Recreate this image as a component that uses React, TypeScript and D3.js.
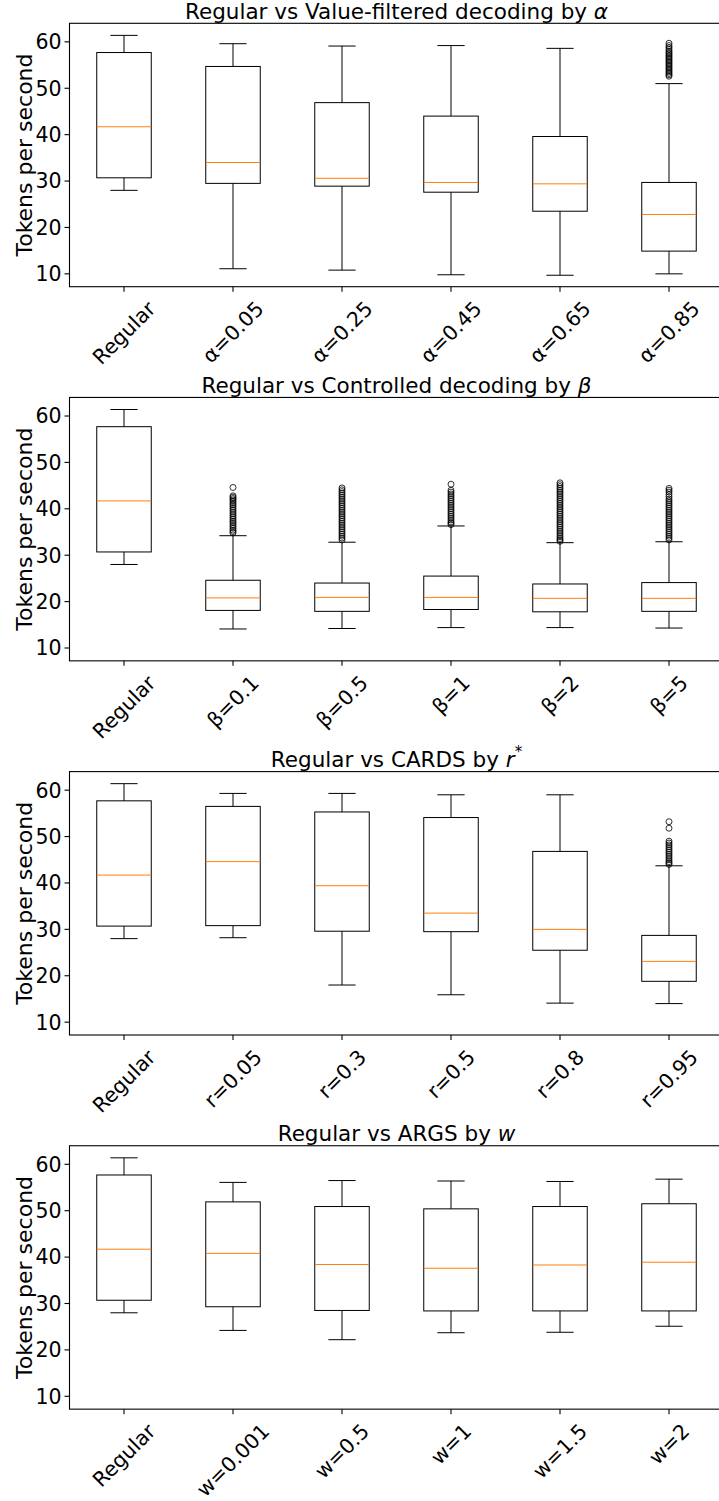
import React from 'react';
import * as d3 from 'd3';

// ---------- DATA ----------
const labelsAlpha = ['Regular', 'α=0.05', 'α=0.25', 'α=0.45', 'α=0.65', 'α=0.85'];
const loAlpha = [28.0, 11.1, 10.8, 9.8, 9.7, 10.0];
const q1Alpha = [30.7, 29.5, 28.9, 27.6, 23.5, 14.9];
const medAlpha = [41.7, 34.0, 30.6, 29.7, 29.4, 22.8];
const q3Alpha = [57.7, 54.7, 46.9, 44.0, 39.6, 29.7];
const hiAlpha = [61.4, 59.6, 59.1, 59.2, 58.6, 51.0];
const outAlpha085 = [52.6, 52.9, 53.2, 53.5, 53.8, 54.1, 54.4, 54.7, 55.0, 55.3, 55.6, 55.9, 56.2, 56.5, 56.8, 57.1, 57.4, 57.7, 58.0, 58.4, 58.8, 59.2, 59.7];

const labelsBeta = ['Regular', 'β=0.1', 'β=0.5', 'β=1', 'β=2', 'β=5'];
const loBeta = [28.0, 14.1, 14.2, 14.4, 14.4, 14.3];
const q1Beta = [30.7, 18.1, 17.9, 18.3, 17.8, 17.9];
const medBeta = [41.7, 20.8, 20.9, 20.9, 20.7, 20.7];
const q3Beta = [57.7, 24.6, 24.0, 25.5, 23.8, 24.1];
const hiBeta = [61.4, 34.2, 32.8, 36.3, 32.7, 32.9];
const outBeta01 = [34.8, 35.1, 35.4, 35.8, 36.2, 36.6, 37.0, 37.3, 37.7, 38.1, 38.5, 38.9, 39.3, 39.7, 40.1, 40.5, 40.9, 41.2, 41.6, 41.9, 42.2, 42.5, 42.8, 44.6];
const outBeta05 = [33.3, 33.7, 34.1, 34.5, 34.9, 35.3, 35.7, 36.1, 36.5, 36.9, 37.3, 37.7, 38.1, 38.5, 38.9, 39.3, 39.7, 40.1, 40.5, 40.9, 41.3, 41.7, 42.1, 42.5, 42.9, 43.3, 43.7, 44.1, 44.5];
const outBeta1 = [36.6, 36.9, 37.2, 37.6, 38.0, 38.4, 38.8, 39.2, 39.6, 40.0, 40.4, 40.8, 41.2, 41.6, 42.0, 42.4, 42.8, 43.2, 43.6, 44.0, 45.3];
const outBeta2 = [33.0, 33.3, 33.6, 34.0, 34.4, 34.8, 35.2, 35.6, 36.0, 36.4, 36.8, 37.2, 37.6, 38.0, 38.4, 38.8, 39.2, 39.6, 40.0, 40.4, 40.8, 41.2, 41.6, 42.0, 42.4, 42.8, 43.2, 43.6, 44.0, 44.4, 44.8, 45.2, 45.6];
const outBeta5 = [33.3, 33.7, 34.1, 34.5, 34.9, 35.3, 35.7, 36.1, 36.5, 36.9, 37.3, 37.7, 38.1, 38.5, 38.9, 39.3, 39.7, 40.1, 40.5, 40.9, 41.3, 41.7, 42.1, 42.6, 43.1, 43.6, 44.0, 44.4];

const labelsR = ['Regular', 'r=0.05', 'r=0.3', 'r=0.5', 'r=0.8', 'r=0.95'];
const loR = [28.0, 28.2, 18.0, 15.9, 14.1, 14.0];
const q1R = [30.7, 30.8, 29.6, 29.5, 25.5, 18.8];
const medR = [41.7, 44.6, 39.4, 33.5, 30.0, 23.1];
const q3R = [57.7, 56.5, 55.3, 54.1, 46.8, 28.7];
const hiR = [61.4, 59.3, 59.3, 59.0, 59.0, 43.7];
const outR095 = [44.0, 44.3, 44.6, 45.0, 45.4, 45.8, 46.2, 46.6, 47.0, 47.4, 47.8, 48.2, 48.6, 49.0, 51.8, 53.2];

const labelsW = ['Regular', 'w=0.001', 'w=0.5', 'w=1', 'w=1.5', 'w=2'];
const loW = [28.0, 24.2, 22.2, 23.7, 23.8, 25.1];
const q1W = [30.7, 29.3, 28.5, 28.4, 28.4, 28.4];
const medW = [41.7, 40.8, 38.4, 37.6, 38.3, 38.9];
const q3W = [57.7, 51.9, 50.9, 50.4, 50.9, 51.5];
const hiW = [61.4, 56.1, 56.5, 56.4, 56.3, 56.8];

const yTicks = [10, 20, 30, 40, 50, 60];

const panels = [
  { pre: 'Regular vs Value-filtered decoding by ', sym: 'α', sup: '', labels: labelsAlpha, lo: loAlpha, q1: q1Alpha, med: medAlpha, q3: q3Alpha, hi: hiAlpha, out: [[], [], [], [], [], outAlpha085] },
  { pre: 'Regular vs Controlled decoding by ', sym: 'β', sup: '', labels: labelsBeta, lo: loBeta, q1: q1Beta, med: medBeta, q3: q3Beta, hi: hiBeta, out: [[], outBeta01, outBeta05, outBeta1, outBeta2, outBeta5] },
  { pre: 'Regular vs CARDS by ', sym: 'r', sup: '*', labels: labelsR, lo: loR, q1: q1R, med: medR, q3: q3R, hi: hiR, out: [[], [], [], [], [], outR095] },
  { pre: 'Regular vs ARGS by ', sym: 'w', sup: '', labels: labelsW, lo: loW, q1: q1W, med: medW, q3: q3W, hi: hiW, out: [[], [], [], [], [], []] },
];

// ---------- LAYOUT ----------
const WIDTH = 719;
const HEIGHT = 1501;
const AX_LEFT = 69.5;
const AX_RIGHT = 723.5;
const AX_TOP0 = 23.3;
const PANEL_STEP = 374.15;
const AX_H = 263.4;
const TICK_FS = 20.5;
const TITLE_FS = 21.5;
const YLABEL_FS = 22;
const FONT = '"DejaVu Sans", sans-serif';

let ctx: CanvasRenderingContext2D | null = null;
function textWidth(s: string, fs: number): number {
  if (!ctx && typeof document !== 'undefined') {
    ctx = document.createElement('canvas').getContext('2d');
  }
  if (!ctx) return s.length * fs * 0.6;
  ctx.font = `${fs}px "DejaVu Sans"`;
  return ctx.measureText(s).width;
}

function Panel({ p, idx }: { p: any; idx: number }) {
  const top = AX_TOP0 + idx * PANEL_STEP;
  const bottom = top + AX_H;
  const x = d3.scaleLinear().domain([0.5, 6.5]).range([AX_LEFT, AX_RIGHT]);
  const y = d3.scaleLinear().domain([7.23, 64.0]).range([bottom, top]);
  const half = x(1.25) - x(1);
  const capHalf = half / 2;
  const c = Math.SQRT1_2;
  const A = 0.928 * TICK_FS;
  const D = 0.236 * TICK_FS;
  const cx = (AX_LEFT + AX_RIGHT) / 2;
  const midY = (top + bottom) / 2;
  return (
    <g>
      {/* title */}
      <text x={cx} y={top - 4.3} fontSize={TITLE_FS} fontFamily={FONT} textAnchor="middle" fill="#000">
        {p.pre}
        <tspan fontStyle="italic">{p.sym}</tspan>
        {p.sup ? <tspan fontSize={15} dy={-10}>{p.sup}</tspan> : null}
      </text>
      {/* y label */}
      <text transform={`translate(32,${midY}) rotate(-90)`} fontSize={YLABEL_FS} fontFamily={FONT} textAnchor="middle" fill="#000">
        Tokens per second
      </text>
      {/* y ticks */}
      {yTicks.map((t) => (
        <g key={t}>
          <line x1={AX_LEFT - 5} x2={AX_LEFT} y1={y(t)} y2={y(t)} stroke="#000" strokeWidth={1.1} />
          <text x={AX_LEFT - 8} y={y(t)} dy="0.36em" fontSize={TICK_FS} fontFamily={FONT} textAnchor="end" fill="#000">{t}</text>
        </g>
      ))}
      {/* boxes */}
      {p.labels.map((lab: string, i: number) => {
        const px = x(i + 1);
        return (
          <g key={lab}>
            <line x1={px} x2={px} y1={y(p.q3[i])} y2={y(p.hi[i])} stroke="#000" strokeWidth={1} />
            <line x1={px} x2={px} y1={y(p.q1[i])} y2={y(p.lo[i])} stroke="#000" strokeWidth={1} />
            <line x1={px - capHalf} x2={px + capHalf} y1={y(p.hi[i])} y2={y(p.hi[i])} stroke="#000" strokeWidth={1} />
            <line x1={px - capHalf} x2={px + capHalf} y1={y(p.lo[i])} y2={y(p.lo[i])} stroke="#000" strokeWidth={1} />
            <rect x={px - half} y={y(p.q3[i])} width={2 * half} height={y(p.q1[i]) - y(p.q3[i])} fill="none" stroke="#000" strokeWidth={1} />
            <line x1={px - half} x2={px + half} y1={y(p.med[i])} y2={y(p.med[i])} stroke="#ff7f0e" strokeWidth={1} />
            {p.out[i].map((v: number, k: number) => (
              <circle key={k} cx={px} cy={y(v)} r={3} fill="none" stroke="#000" strokeWidth={0.8} />
            ))}
          </g>
        );
      })}
      {/* x ticks and labels */}
      {p.labels.map((lab: string, i: number) => {
        const px = x(i + 1);
        const W = textWidth(lab, TICK_FS);
        const y0 = bottom + 10;
        const ox = px - (c * (W + D - A)) / 2;
        const oy = y0 + c * (A + W);
        return (
          <g key={'t' + lab}>
            <line x1={px} x2={px} y1={bottom} y2={bottom + 5} stroke="#000" strokeWidth={1.1} />
            <text transform={`translate(${ox},${oy}) rotate(-45)`} fontSize={TICK_FS} fontFamily={FONT} fill="#000">{lab}</text>
          </g>
        );
      })}
      {/* spines */}
      <rect x={AX_LEFT} y={top} width={AX_RIGHT - AX_LEFT} height={AX_H} fill="none" stroke="#000" strokeWidth={1.1} />
    </g>
  );
}

export default function App() {
  return (
    <svg width={WIDTH} height={HEIGHT} style={{ position: 'absolute', left: 0, top: 0, background: '#fff' }}>
      <rect x={0} y={0} width={WIDTH} height={HEIGHT} fill="#fff" />
      {panels.map((p, i) => (
        <Panel key={i} p={p} idx={i} />
      ))}
    </svg>
  );
}
